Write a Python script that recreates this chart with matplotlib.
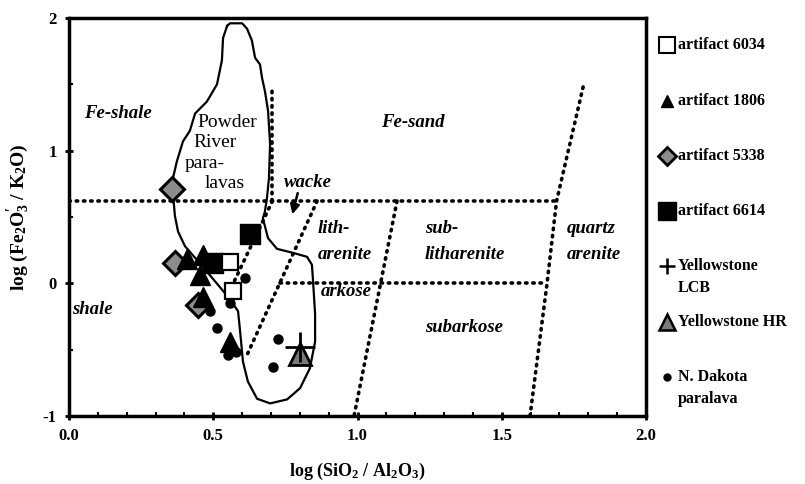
import matplotlib
matplotlib.use("Agg")
import matplotlib.pyplot as plt
from matplotlib.lines import Line2D
from matplotlib.ticker import MultipleLocator

plt.rcParams['font.family'] = ['Liberation Serif', 'DejaVu Serif']
plt.rcParams['mathtext.fontset'] = 'custom'
plt.rcParams['mathtext.rm'] = 'Liberation Serif:bold'
plt.rcParams['mathtext.it'] = 'Liberation Serif:bold'
plt.rcParams['mathtext.bf'] = 'Liberation Serif:bold'

# ---------------- data ----------------
a6034_x = [0.558, 0.568]
a6034_y = [0.16, -0.06]

a1806_x = [0.41, 0.465, 0.455, 0.465, 0.558]
a1806_y = [0.18, 0.21, 0.06, -0.10, -0.44]

a5338_x = [0.357, 0.367, 0.447]
a5338_y = [0.71, 0.15, -0.16]

a6614_x = [0.627, 0.50]
a6614_y = [0.37, 0.15]

lcb_x = [0.80]
lcb_y = [-0.48]

hr_x = [0.80]
hr_y = [-0.53]

nd_x = [0.61, 0.558, 0.513, 0.551, 0.58, 0.724, 0.707, 0.489]
nd_y = [0.04, -0.15, -0.34, -0.54, -0.52, -0.42, -0.63, -0.21]

# Powder River paralava field outline
pr_x = [0.548, 0.558, 0.600, 0.617, 0.634, 0.645, 0.662, 0.669, 0.679, 0.690,
        0.697, 0.693, 0.686, 0.679, 0.672, 0.690, 0.721, 0.776, 0.825, 0.842,
        0.846, 0.853, 0.853, 0.835, 0.801, 0.756, 0.697, 0.652, 0.620, 0.603,
        0.593, 0.586, 0.558, 0.516, 0.454, 0.402, 0.378, 0.367, 0.360, 0.360,
        0.374, 0.395, 0.419, 0.437, 0.478, 0.513, 0.530, 0.534, 0.548]
pr_y = [1.94, 1.96, 1.96, 1.92, 1.83, 1.70, 1.65, 1.55, 1.45, 1.30,
        1.05, 0.79, 0.64, 0.54, 0.49, 0.34, 0.26, 0.23, 0.20, 0.14,
        0.015, -0.23, -0.44, -0.64, -0.79, -0.875, -0.905, -0.87, -0.74, -0.59,
        -0.36, -0.21, -0.12, -0.01, 0.15, 0.28, 0.39, 0.51, 0.69, 0.79,
        0.92, 1.07, 1.15, 1.28, 1.37, 1.50, 1.68, 1.85, 1.94]

# classification boundaries (dotted)
bnd_upper_x = [0.0, 1.69];   bnd_upper_y = [0.62, 0.62]
bnd_vert_x = [0.705, 0.705]; bnd_vert_y = [0.62, 1.48]
bnd_a_x = [0.705, 0.565];    bnd_a_y = [0.62, -0.02]
bnd_b_x = [0.86, 0.617];     bnd_b_y = [0.62, -0.54]
bnd_c_x = [1.137, 0.988];    bnd_c_y = [0.62, -1.0]
bnd_d_x = [1.782, 1.69, 1.657, 1.598]; bnd_d_y = [1.48, 0.62, 0.0, -1.0]
bnd_zero_x = [0.73, 1.657];  bnd_zero_y = [0.0, 0.0]

x_ticks = [0.0, 0.5, 1.0, 1.5, 2.0]
x_ticklabels = ['0.0', '0.5', '1.0', '1.5', '2.0']
y_ticks = [-1, 0, 1, 2]
y_ticklabels = ['-1', '0', '1', '2']

# ---------------- figure ----------------
fig = plt.figure(figsize=(8.05, 4.84), dpi=100)
ax = fig.add_axes([69/805, 1-416/484, (646-69)/805, (416-18)/484])
ax.set_xlim(0, 2.0)
ax.set_ylim(-1, 2)

dot = dict(color='black', lw=2.6, linestyle=(0, (0.4, 1.6)),
           dash_capstyle='round', solid_capstyle='round')
for bx, by in [(bnd_upper_x, bnd_upper_y), (bnd_vert_x, bnd_vert_y),
               (bnd_a_x, bnd_a_y), (bnd_b_x, bnd_b_y), (bnd_c_x, bnd_c_y),
               (bnd_d_x, bnd_d_y), (bnd_zero_x, bnd_zero_y)]:
    ax.plot(bx, by, **dot, zorder=2)

ax.plot(pr_x, pr_y, color='black', lw=1.6, zorder=2)

# wacke arrow
ax.annotate('', xy=(0.772, 0.50), xytext=(0.795, 0.70),
            arrowprops=dict(arrowstyle='-|>', color='black', lw=1.8,
                            mutation_scale=14))

# markers
ax.plot(nd_x, nd_y, 'o', ms=6.5, color='black', zorder=5)
ax.plot(a6614_x, a6614_y, 's', ms=14, color='black', zorder=4)
ax.plot(a5338_x, a5338_y, 'D', ms=12, mfc='#8c8c8c', mec='black', mew=2.2, zorder=4)
ax.plot(a1806_x, a1806_y, '^', ms=15, color='black', zorder=4)
ax.plot(a6034_x, a6034_y, 's', ms=11, mfc='white', mec='black', mew=1.6, zorder=5)
ax.plot(hr_x, hr_y, '^', ms=16, mfc='#7a7a7a', mec='black', mew=2.0, zorder=4)
ax.plot(lcb_x, lcb_y, '+', ms=22, color='black', mew=2.0, zorder=5)

# region labels
lab = dict(fontsize=13.5, fontweight='bold', fontstyle='italic', va='center')
ax.text(0.17, 1.28, 'Fe-shale', ha='center', **lab)
ax.text(1.19, 1.21, 'Fe-sand', ha='center', **lab)
ax.text(0.828, 0.76, 'wacke', ha='center', **lab)
ax.text(0.863, 0.415, 'lith-', ha='left', **lab)
ax.text(0.863, 0.22, 'arenite', ha='left', **lab)
ax.text(0.872, -0.06, 'arkose', ha='left', **lab)
ax.text(1.234, 0.415, 'sub-', ha='left', **lab)
ax.text(1.234, 0.22, 'litharenite', ha='left', **lab)
ax.text(1.726, 0.415, 'quartz', ha='left', **lab)
ax.text(1.726, 0.22, 'arenite', ha='left', **lab)
ax.text(1.234, -0.33, 'subarkose', ha='left', **lab)
ax.text(0.08, -0.20, 'shale', ha='center', **lab)

pr = dict(fontsize=14, va='center', ha='left')
ax.text(0.444, 1.21, 'Powder', **pr)
ax.text(0.430, 1.06, 'River', **pr)
ax.text(0.402, 0.905, 'para-', **pr)
ax.text(0.471, 0.75, 'lavas', **pr)

# axes styling
for s in ax.spines.values():
    s.set_linewidth(2.5)
ax.set_xticks(x_ticks)
ax.set_xticklabels(x_ticklabels)
ax.set_yticks(y_ticks)
ax.set_yticklabels(y_ticklabels)
ax.xaxis.set_minor_locator(MultipleLocator(0.1))
ax.yaxis.set_minor_locator(MultipleLocator(0.5))
ax.tick_params(which='major', direction='inout', length=6, width=2, labelsize=12, pad=6)
ax.tick_params(which='minor', direction='in', length=3, width=1.5)
for t in ax.get_xticklabels() + ax.get_yticklabels():
    t.set_fontweight('bold')

ax.set_xlabel(r'log (SiO$_2$ / Al$_2$O$_3$)', fontsize=13, fontweight='bold', labelpad=12)
ax.set_ylabel(r"log (Fe$_2$O$_3^{\prime}$ / K$_2$O)", fontsize=14, fontweight='bold', labelpad=8)

# legend (outside axes, manual)
leg_items = [
    (45, dict(marker='s', ms=11, mfc='white', mec='black', mew=1.5), ['artifact 6034']),
    (101, dict(marker='^', ms=8, mfc='black', mec='black'), ['artifact 1806']),
    (156, dict(marker='D', ms=9, mfc='#8c8c8c', mec='black', mew=2), ['artifact 5338']),
    (211, dict(marker='s', ms=13, mfc='black', mec='black'), ['artifact 6614']),
    (266, dict(marker='+', ms=12, mec='black', mew=1.8), ['Yellowstone', 'LCB']),
    (322, dict(marker='^', ms=12, mfc='#7a7a7a', mec='black', mew=1.8), ['Yellowstone HR']),
    (377, dict(marker='o', ms=5, mfc='black', mec='black'), ['N. Dakota', 'paralava']),
]
for py, mk, lines in leg_items:
    fig.add_artist(Line2D([667/805], [1-py/484], transform=fig.transFigure,
                          linestyle='none', **mk))
    for i, ln in enumerate(lines):
        fig.text(678/805, 1-(py+22*i)/484, ln, fontsize=11.5, fontweight='bold',
                 ha='left', va='center')

fig.savefig('out.png', dpi=100)
